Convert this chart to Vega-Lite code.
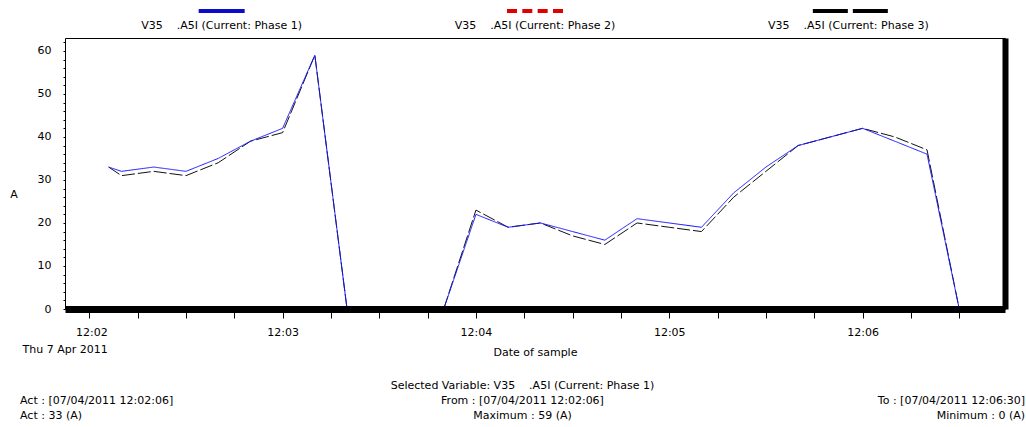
{
  "$schema": "https://vega.github.io/schema/vega-lite/v6.json",
  "padding": {"left": 9, "top": 0, "right": 0, "bottom": 0},
  "background": "white",
  "datasets": {
    "currents": [
      {"t": "2011-04-07T12:02:06", "phase": "Phase 1", "current": 33},
      {"t": "2011-04-07T12:02:10", "phase": "Phase 1", "current": 32},
      {"t": "2011-04-07T12:02:20", "phase": "Phase 1", "current": 33},
      {"t": "2011-04-07T12:02:30", "phase": "Phase 1", "current": 32},
      {"t": "2011-04-07T12:02:40", "phase": "Phase 1", "current": 35},
      {"t": "2011-04-07T12:02:50", "phase": "Phase 1", "current": 39},
      {"t": "2011-04-07T12:03:00", "phase": "Phase 1", "current": 42},
      {"t": "2011-04-07T12:03:10", "phase": "Phase 1", "current": 59},
      {"t": "2011-04-07T12:03:20", "phase": "Phase 1", "current": 0},
      {"t": "2011-04-07T12:03:30", "phase": "Phase 1", "current": 0},
      {"t": "2011-04-07T12:03:40", "phase": "Phase 1", "current": 0},
      {"t": "2011-04-07T12:03:50", "phase": "Phase 1", "current": 0},
      {"t": "2011-04-07T12:04:00", "phase": "Phase 1", "current": 22},
      {"t": "2011-04-07T12:04:10", "phase": "Phase 1", "current": 19},
      {"t": "2011-04-07T12:04:20", "phase": "Phase 1", "current": 20},
      {"t": "2011-04-07T12:04:30", "phase": "Phase 1", "current": 18},
      {"t": "2011-04-07T12:04:40", "phase": "Phase 1", "current": 16},
      {"t": "2011-04-07T12:04:50", "phase": "Phase 1", "current": 21},
      {"t": "2011-04-07T12:05:00", "phase": "Phase 1", "current": 20},
      {"t": "2011-04-07T12:05:10", "phase": "Phase 1", "current": 19},
      {"t": "2011-04-07T12:05:20", "phase": "Phase 1", "current": 27},
      {"t": "2011-04-07T12:05:30", "phase": "Phase 1", "current": 33},
      {"t": "2011-04-07T12:05:40", "phase": "Phase 1", "current": 38},
      {"t": "2011-04-07T12:05:50", "phase": "Phase 1", "current": 40},
      {"t": "2011-04-07T12:06:00", "phase": "Phase 1", "current": 42},
      {"t": "2011-04-07T12:06:10", "phase": "Phase 1", "current": 39},
      {"t": "2011-04-07T12:06:20", "phase": "Phase 1", "current": 36},
      {"t": "2011-04-07T12:06:30", "phase": "Phase 1", "current": 0},
      {"t": "2011-04-07T12:02:06", "phase": "Phase 3", "current": 33},
      {"t": "2011-04-07T12:02:10", "phase": "Phase 3", "current": 31},
      {"t": "2011-04-07T12:02:20", "phase": "Phase 3", "current": 32},
      {"t": "2011-04-07T12:02:30", "phase": "Phase 3", "current": 31},
      {"t": "2011-04-07T12:02:40", "phase": "Phase 3", "current": 34},
      {"t": "2011-04-07T12:02:50", "phase": "Phase 3", "current": 39},
      {"t": "2011-04-07T12:03:00", "phase": "Phase 3", "current": 41},
      {"t": "2011-04-07T12:03:10", "phase": "Phase 3", "current": 59},
      {"t": "2011-04-07T12:03:20", "phase": "Phase 3", "current": 0},
      {"t": "2011-04-07T12:03:30", "phase": "Phase 3", "current": 0},
      {"t": "2011-04-07T12:03:40", "phase": "Phase 3", "current": 0},
      {"t": "2011-04-07T12:03:50", "phase": "Phase 3", "current": 0},
      {"t": "2011-04-07T12:04:00", "phase": "Phase 3", "current": 23},
      {"t": "2011-04-07T12:04:10", "phase": "Phase 3", "current": 19},
      {"t": "2011-04-07T12:04:20", "phase": "Phase 3", "current": 20},
      {"t": "2011-04-07T12:04:30", "phase": "Phase 3", "current": 17},
      {"t": "2011-04-07T12:04:40", "phase": "Phase 3", "current": 15},
      {"t": "2011-04-07T12:04:50", "phase": "Phase 3", "current": 20},
      {"t": "2011-04-07T12:05:00", "phase": "Phase 3", "current": 19},
      {"t": "2011-04-07T12:05:10", "phase": "Phase 3", "current": 18},
      {"t": "2011-04-07T12:05:20", "phase": "Phase 3", "current": 26},
      {"t": "2011-04-07T12:05:30", "phase": "Phase 3", "current": 32},
      {"t": "2011-04-07T12:05:40", "phase": "Phase 3", "current": 38},
      {"t": "2011-04-07T12:05:50", "phase": "Phase 3", "current": 40},
      {"t": "2011-04-07T12:06:00", "phase": "Phase 3", "current": 42},
      {"t": "2011-04-07T12:06:10", "phase": "Phase 3", "current": 40},
      {"t": "2011-04-07T12:06:20", "phase": "Phase 3", "current": 37},
      {"t": "2011-04-07T12:06:30", "phase": "Phase 3", "current": 0}
    ],
    "legendItems": [
      {"series": "Phase 1", "label": "V35\u00a0\u00a0\u00a0\u00a0.A5I (Current: Phase 1)"},
      {"series": "Phase 2", "label": "V35\u00a0\u00a0\u00a0\u00a0.A5I (Current: Phase 2)"},
      {"series": "Phase 3", "label": "V35\u00a0\u00a0\u00a0\u00a0.A5I (Current: Phase 3)"}
    ],
    "footer": [
      {"column": "center", "line": "selected", "text": "Selected Variable: V35\u00a0\u00a0\u00a0\u00a0.A5I (Current: Phase 1)"},
      {"column": "left", "line": "range", "text": "Act : [07/04/2011 12:02:06]"},
      {"column": "center", "line": "range", "text": "From : [07/04/2011 12:02:06]"},
      {"column": "right", "line": "range", "text": "To : [07/04/2011 12:06:30]"},
      {"column": "left", "line": "extremes", "text": "Act : 33 (A)"},
      {"column": "center", "line": "extremes", "text": "Maximum : 59 (A)"},
      {"column": "right", "line": "extremes", "text": "Minimum : 0 (A)"}
    ]
  },
  "vconcat": [
    {
      "width": 940,
      "height": 31,
      "data": {"name": "legendItems"},
      "encoding": {
        "x": {"field": "series", "type": "nominal", "scale": {"type": "point", "domain": ["Phase 1", "Phase 2", "Phase 3"]}, "axis": null},
        "color": {"field": "series", "type": "nominal", "scale": {"domain": ["Phase 1", "Phase 2", "Phase 3"], "range": ["#0c0cc8", "#e00000", "#000000"]}, "legend": null}
      },
      "layer": [
        {
          "transform": [{"filter": "datum.series === 'Phase 1'"}],
          "mark": {"type": "point", "shape": "M-1,0L1,0", "filled": false, "strokeWidth": 4, "strokeCap": "butt", "opacity": 1, "yOffset": -4.5, "size": 2116}
        },
        {
          "transform": [{"filter": "datum.series === 'Phase 2'"}],
          "mark": {"type": "point", "shape": "M-1,0L1,0", "filled": false, "strokeWidth": 4, "strokeCap": "butt", "opacity": 1, "yOffset": -4.5, "size": 3136, "strokeDash": [10, 5.33]}
        },
        {
          "transform": [{"filter": "datum.series === 'Phase 3'"}],
          "mark": {"type": "point", "shape": "M-1,0L1,0", "filled": false, "strokeWidth": 4, "strokeCap": "butt", "opacity": 1, "yOffset": -4.5, "size": 5625, "strokeDash": [35, 5], "xOffset": 2}
        },
        {
          "mark": {"type": "text", "dy": 10.5, "baseline": "middle", "color": "#000"},
          "encoding": {"text": {"field": "label"}, "color": {"value": "#000"}}
        }
      ]
    },
    {
      "width": 940,
      "height": 271,
      "view": {"stroke": "#000", "strokeWidth": 1},
      "data": {"name": "currents"},
      "encoding": {
        "color": {"field": "phase", "type": "nominal", "scale": {"domain": ["Phase 1", "Phase 2", "Phase 3"], "range": ["#1414ff", "#e00000", "#111111"]}, "legend": null},
        "strokeDash": {"field": "phase", "type": "nominal", "scale": {"domain": ["Phase 1", "Phase 2", "Phase 3"], "range": [[1, 0], [4, 3], [13, 3]]}, "legend": null}
      },
      "layer": [
        {
          "transform": [{"filter": "datum.phase === 'Phase 3'"}],
          "mark": {"type": "line", "strokeWidth": 1},
          "encoding": {
            "x": {
              "field": "t", "type": "temporal",
              "scale": {"nice": false, "domain": [
                {"year": 2011, "month": 4, "date": 7, "hours": 12, "minutes": 1, "seconds": 52, "milliseconds": 460},
                {"year": 2011, "month": 4, "date": 7, "hours": 12, "minutes": 6, "seconds": 44, "milliseconds": 200}
              ]},
              "axis": {
                "title": "Date of sample",
                "titleBaseline": "alphabetic",
                "titleY": 46,
                "zindex": 1,
                "values": [
                  {"year": 2011, "month": 4, "date": 7, "hours": 12, "minutes": 2, "seconds": 0},
                  {"year": 2011, "month": 4, "date": 7, "hours": 12, "minutes": 2, "seconds": 15},
                  {"year": 2011, "month": 4, "date": 7, "hours": 12, "minutes": 2, "seconds": 30},
                  {"year": 2011, "month": 4, "date": 7, "hours": 12, "minutes": 2, "seconds": 45},
                  {"year": 2011, "month": 4, "date": 7, "hours": 12, "minutes": 3, "seconds": 0},
                  {"year": 2011, "month": 4, "date": 7, "hours": 12, "minutes": 3, "seconds": 15},
                  {"year": 2011, "month": 4, "date": 7, "hours": 12, "minutes": 3, "seconds": 30},
                  {"year": 2011, "month": 4, "date": 7, "hours": 12, "minutes": 3, "seconds": 45},
                  {"year": 2011, "month": 4, "date": 7, "hours": 12, "minutes": 4, "seconds": 0},
                  {"year": 2011, "month": 4, "date": 7, "hours": 12, "minutes": 4, "seconds": 15},
                  {"year": 2011, "month": 4, "date": 7, "hours": 12, "minutes": 4, "seconds": 30},
                  {"year": 2011, "month": 4, "date": 7, "hours": 12, "minutes": 4, "seconds": 45},
                  {"year": 2011, "month": 4, "date": 7, "hours": 12, "minutes": 5, "seconds": 0},
                  {"year": 2011, "month": 4, "date": 7, "hours": 12, "minutes": 5, "seconds": 15},
                  {"year": 2011, "month": 4, "date": 7, "hours": 12, "minutes": 5, "seconds": 30},
                  {"year": 2011, "month": 4, "date": 7, "hours": 12, "minutes": 5, "seconds": 45},
                  {"year": 2011, "month": 4, "date": 7, "hours": 12, "minutes": 6, "seconds": 0},
                  {"year": 2011, "month": 4, "date": 7, "hours": 12, "minutes": 6, "seconds": 15},
                  {"year": 2011, "month": 4, "date": 7, "hours": 12, "minutes": 6, "seconds": 30}
                ],
                "labelExpr": "seconds(datum.value) !== 0 ? '' : (minutes(datum.value) === 2 ? [timeFormat(datum.value, '%H:%M'), timeFormat(datum.value, '%a %-d %b %Y')] : timeFormat(datum.value, '%H:%M'))",
                "labelAlign": {"condition": {"test": "minutes(datum.value) === 2 && seconds(datum.value) === 0", "value": "right"}, "value": "center"},
                "labelOffset": {"condition": {"test": "minutes(datum.value) === 2 && seconds(datum.value) === 0", "value": 18}, "value": 0},
                "labelBaseline": "top",
                "labelLineHeight": 17,
                "labelOverlap": false,
                "labelFlush": false,
                "labelBound": false,
                "tickSize": 9,
                "labelPadding": 8,
                "domain": true,
                "domainWidth": 7,
                "domainColor": "#000",
                "encode": {
                  "ticks": {"update": {
                    "y": [{"test": "seconds(datum.value) === 0", "value": -8}, {"value": -6}],
                    "y2": [{"test": "seconds(datum.value) === 0", "value": 9}, {"value": -3}]
                  }},
                  "domain": {"update": {"x": {"value": 7}, "x2": {"value": 947}, "y": {"value": 3}, "y2": {"value": 3}}}
                }
              }
            },
            "y": {
              "field": "current", "type": "quantitative",
              "scale": {"domain": [0, 63], "nice": false},
              "axis": {
                "title": "A",
                "titleAngle": 0,
                "titleAlign": "center",
                "titleBaseline": "middle",
                "titleX": -51.5,
                "titleY": 156,
                "values": [0, 2, 4, 6, 8, 10, 12, 14, 16, 18, 20, 22, 24, 26, 28, 30, 32, 34, 36, 38, 40, 42, 44, 46, 48, 50, 52, 54, 56, 58, 60, 62],
                "labelExpr": "datum.value % 10 === 0 ? datum.label : ''",
                "tickSize": 2,
                "labelPadding": 12,
                "domain": false,
                "encode": {
                  "ticks": {"update": {
                    "x": [{"test": "datum.value % 10 === 0", "value": -2}, {"value": 0}],
                    "x2": [{"test": "datum.value % 10 === 0", "value": 9}, {"value": 4}]
                  }}
                }
              }
            }
          }
        },
        {
          "transform": [{"filter": "datum.phase === 'Phase 1'"}],
          "mark": {"type": "line", "strokeWidth": 1},
          "encoding": {
            "x": {
              "field": "t", "type": "temporal",
              "scale": {"nice": false, "domain": [
                {"year": 2011, "month": 4, "date": 7, "hours": 12, "minutes": 1, "seconds": 52, "milliseconds": 460},
                {"year": 2011, "month": 4, "date": 7, "hours": 12, "minutes": 6, "seconds": 44, "milliseconds": 200}
              ]},
              "axis": null
            },
            "y": {
              "field": "current", "type": "quantitative",
              "scale": {"domain": [0, 63], "nice": false},
              "axis": {
                "orient": "right",
                "title": null,
                "labels": false,
                "ticks": false,
                "domain": true,
                "domainWidth": 6,
                "domainColor": "#000",
                "zindex": 1,
                "encode": {
                  "domain": {"update": {"x": {"value": 3.5}, "x2": {"value": 3.5}, "y": {"value": 6}, "y2": {"value": 278}}}
                }
              }
            }
          }
        }
      ],
      "resolve": {"axis": {"x": "independent", "y": "independent"}}
    },
    {
      "width": 940,
      "height": 58,
      "data": {"name": "footer"},
      "encoding": {
        "x": {"field": "column", "type": "nominal", "scale": {"type": "point", "domain": ["left", "center", "right"], "range": [-45, 960], "padding": 0}, "axis": null},
        "y": {"field": "line", "type": "nominal", "scale": {"type": "point", "domain": ["selected", "range", "extremes"], "range": [21.5, 51.5], "padding": 0}, "axis": null},
        "text": {"field": "text"}
      },
      "layer": [
        {"transform": [{"filter": "datum.column === 'left'"}], "mark": {"type": "text", "align": "left", "baseline": "middle"}},
        {"transform": [{"filter": "datum.column === 'center'"}], "mark": {"type": "text", "align": "center", "baseline": "middle"}},
        {"transform": [{"filter": "datum.column === 'right'"}], "mark": {"type": "text", "align": "right", "baseline": "middle"}}
      ]
    }
  ],
  "spacing": 6,
  "resolve": {"scale": {"x": "independent", "y": "independent", "color": "independent", "strokeDash": "independent", "size": "independent"}},
  "config": {
    "font": "DejaVu Sans",
    "view": {"stroke": null},
    "axis": {
      "labelFont": "DejaVu Sans", "labelFontSize": 11, "labelColor": "#000",
      "titleFont": "DejaVu Sans", "titleFontSize": 11, "titleFontWeight": "normal", "titleColor": "#000",
      "tickColor": "#000", "domainColor": "#000", "grid": false
    },
    "text": {"font": "DejaVu Sans", "fontSize": 11, "color": "#000"}
  }
}
